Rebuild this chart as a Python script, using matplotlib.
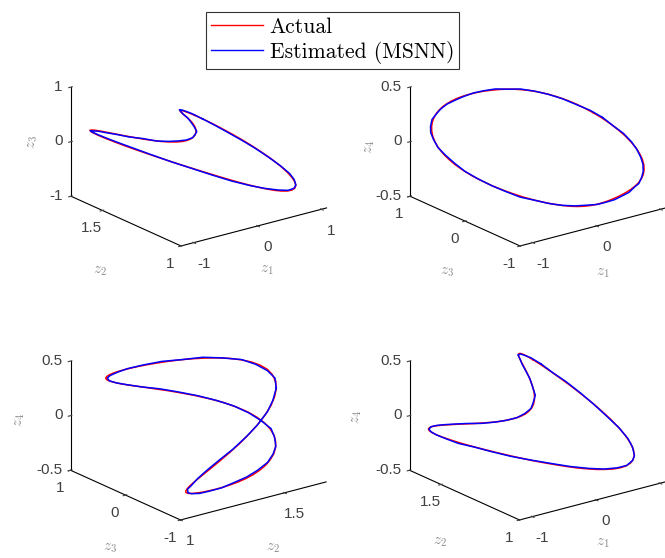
import matplotlib.pyplot as plt
from matplotlib.lines import Line2D

# actual trajectory of the limit cycle, one period
z1_actual = [0.725, 0.804, 0.877, 0.942, 0.997, 1.040, 1.070, 1.085, 1.087, 1.075,
             1.049, 1.012, 0.965, 0.910, 0.849, 0.784, 0.718, 0.653, 0.588, 0.526,
             0.465, 0.406, 0.346, 0.286, 0.224, 0.158, 0.086, 0.008, -0.076, -0.167,
             -0.264, -0.366, -0.471, -0.576, -0.680, -0.781, -0.875, -0.961, -1.036, -1.100,
             -1.150, -1.187, -1.211, -1.221, -1.219, -1.205, -1.181, -1.147, -1.105, -1.055,
             -1.000, -0.940, -0.875, -0.807, -0.736, -0.663, -0.588, -0.513, -0.436, -0.359,
             -0.281, -0.202, -0.123, -0.042, 0.039, 0.122, 0.206, 0.292, 0.379, 0.467,
             0.555, 0.641]
z2_actual = [1.695, 1.681, 1.656, 1.621, 1.576, 1.524, 1.467, 1.408, 1.348, 1.291,
             1.238, 1.192, 1.155, 1.127, 1.109, 1.101, 1.102, 1.113, 1.131, 1.157,
             1.188, 1.223, 1.262, 1.304, 1.347, 1.391, 1.435, 1.479, 1.521, 1.562,
             1.598, 1.631, 1.658, 1.678, 1.691, 1.694, 1.688, 1.672, 1.647, 1.612,
             1.570, 1.520, 1.466, 1.410, 1.353, 1.298, 1.247, 1.201, 1.162, 1.132,
             1.110, 1.097, 1.093, 1.098, 1.110, 1.129, 1.154, 1.184, 1.219, 1.258,
             1.300, 1.344, 1.391, 1.438, 1.485, 1.531, 1.574, 1.613, 1.647, 1.673,
             1.691, 1.698]
z3_actual = [-0.099, -0.165, -0.230, -0.295, -0.358, -0.417, -0.474, -0.525, -0.571, -0.611,
             -0.645, -0.672, -0.691, -0.705, -0.712, -0.714, -0.712, -0.707, -0.698, -0.688,
             -0.675, -0.662, -0.646, -0.628, -0.607, -0.582, -0.552, -0.517, -0.475, -0.426,
             -0.370, -0.308, -0.239, -0.165, -0.088, -0.008, 0.072, 0.150, 0.226, 0.298,
             0.364, 0.425, 0.478, 0.525, 0.566, 0.601, 0.630, 0.654, 0.673, 0.689,
             0.700, 0.708, 0.713, 0.713, 0.709, 0.700, 0.687, 0.668, 0.644, 0.614,
             0.579, 0.539, 0.495, 0.446, 0.394, 0.339, 0.282, 0.222, 0.160, 0.097,
             0.032, -0.033]
z4_actual = [0.220, 0.175, 0.127, 0.077, 0.028, -0.022, -0.069, -0.114, -0.156, -0.194,
             -0.229, -0.260, -0.287, -0.311, -0.331, -0.349, -0.365, -0.379, -0.392, -0.403,
             -0.414, -0.422, -0.430, -0.435, -0.438, -0.439, -0.437, -0.431, -0.421, -0.407,
             -0.389, -0.367, -0.341, -0.310, -0.276, -0.239, -0.198, -0.156, -0.111, -0.066,
             -0.020, 0.025, 0.069, 0.111, 0.152, 0.189, 0.224, 0.255, 0.283, 0.308,
             0.329, 0.347, 0.362, 0.375, 0.386, 0.396, 0.404, 0.411, 0.418, 0.423,
             0.427, 0.430, 0.431, 0.429, 0.424, 0.415, 0.402, 0.384, 0.361, 0.333,
             0.300, 0.262]

# trajectory predicted by the MSNN model
z1_msnn = [0.81, 0.90, 0.98, 1.04, 1.07, 1.08, 1.07, 1.04, 0.99, 0.92,
           0.84, 0.75, 0.65, 0.54, 0.43, 0.31, 0.19, 0.06, -0.08, -0.22,
           -0.36, -0.51, -0.65, -0.78, -0.91, -1.02, -1.11, -1.17, -1.22, -1.23,
           -1.23, -1.19, -1.14, -1.06, -0.97, -0.87, -0.75, -0.64, -0.51, -0.38,
           -0.25, -0.11, 0.02, 0.16, 0.30, 0.44, 0.57, 0.70]
z2_msnn = [1.68, 1.64, 1.59, 1.52, 1.45, 1.37, 1.29, 1.22, 1.17, 1.13,
           1.11, 1.11, 1.13, 1.17, 1.22, 1.29, 1.36, 1.44, 1.51, 1.58,
           1.63, 1.67, 1.69, 1.70, 1.68, 1.65, 1.60, 1.54, 1.47, 1.39,
           1.32, 1.25, 1.18, 1.14, 1.11, 1.10, 1.11, 1.14, 1.18, 1.25,
           1.32, 1.40, 1.48, 1.55, 1.62, 1.66, 1.69, 1.70]
z3_msnn = [-0.17, -0.26, -0.35, -0.43, -0.49, -0.55, -0.60, -0.64, -0.67, -0.70,
           -0.71, -0.72, -0.71, -0.70, -0.68, -0.65, -0.60, -0.54, -0.47, -0.39,
           -0.30, -0.20, -0.10, 0.00, 0.11, 0.21, 0.30, 0.39, 0.47, 0.54,
           0.59, 0.64, 0.67, 0.69, 0.71, 0.71, 0.70, 0.68, 0.65, 0.61,
           0.55, 0.49, 0.41, 0.32, 0.23, 0.13, 0.03, -0.07]
z4_msnn = [0.18, 0.11, 0.05, -0.02, -0.08, -0.14, -0.19, -0.24, -0.28, -0.32,
           -0.34, -0.37, -0.39, -0.41, -0.42, -0.43, -0.43, -0.43, -0.42, -0.40,
           -0.37, -0.34, -0.29, -0.24, -0.18, -0.12, -0.05, 0.01, 0.07, 0.13,
           0.18, 0.22, 0.27, 0.30, 0.33, 0.36, 0.38, 0.40, 0.42, 0.43,
           0.44, 0.43, 0.43, 0.41, 0.38, 0.34, 0.29, 0.24]

axis_names = ['$z_1$', '$z_2$', '$z_3$', '$z_4$']
axis_limits = [(-1.2, 1.08), (1.0, 1.7), (-1.0, 1.0), (-0.5, 0.5)]
axis_ticks = [[-1, 0, 1], [1, 1.5], [-1, 0, 1], [-0.5, 0, 0.5]]
tick_labels = [['-1', '0', '1'], ['1', '1.5'], ['-1', '0', '1'], ['-0.5', '0', '0.5']]

# which states go on x, y, z of each subplot
panels = [(0, 1, 2), (0, 2, 3), (1, 2, 3), (0, 1, 3)]


def closed(seq):
    return seq + seq[:1]


actual = [closed(z1_actual), closed(z2_actual), closed(z3_actual), closed(z4_actual)]
msnn = [closed(z1_msnn), closed(z2_msnn), closed(z3_msnn), closed(z4_msnn)]

plt.rcParams['font.family'] = 'Liberation Sans'
plt.rcParams['axes.unicode_minus'] = False
plt.rcParams['mathtext.fontset'] = 'cm'

W, H = 665, 558
fig = plt.figure(figsize=(W / 100, H / 100), dpi=100)

rects = [[0.08699, 0.48306, 0.41278, 0.49194], [0.59680, 0.48306, 0.41278, 0.49194],
         [0.08627, -0.00797, 0.41278, 0.49194], [0.59604, -0.00797, 0.41278, 0.49194]]
# axis title positions in pixels (x label, y label, z label)
title_pos = [[(267, 270), (100, 271), (33, 142)],
             [(603, 273), (447, 272), (370, 147)],
             [(273, 548), (110, 548), (20, 420)],
             [(603, 543), (440, 542), (357, 417)]]

for rect, (i, j, k), tp in zip(rects, panels, title_pos):
    ax = fig.add_axes(rect, projection='3d', proj_type='ortho')
    ax.plot(actual[i], actual[j], actual[k], color='r', lw=1.1)
    ax.plot(msnn[i], msnn[j], msnn[k], color='b', lw=1.1)

    ax.set_xlim(axis_limits[i])
    ax.set_ylim(axis_limits[j])
    ax.set_zlim(axis_limits[k])
    ax.set_box_aspect((1.572, 1.562, 1))
    ax.view_init(elev=20.1, azim=-127.25)
    ax.grid(False)

    for axis, n, pad in zip((ax.xaxis, ax.yaxis, ax.zaxis), (i, j, k), (1.3, -0.5, -4.7)):
        axis.pane.set_visible(False)
        axis.line.set_color('k')
        axis.line.set_linewidth(0.8)
        axis.set_ticks(axis_ticks[n])
        axis.set_ticklabels(tick_labels[n])
        axis.set_tick_params(labelsize=11, colors='#404040', pad=pad)
    for lab in ax.zaxis.get_ticklabels():
        lab.set_ha('right')
        lab.set_va('center')

    for (x, y), n, rot in zip(tp, (i, j, k), (0, 0, 90)):
        fig.text(x / W, 1 - y / H, axis_names[n], ha='center', va='center',
                 rotation=rot, fontsize=11, color='#8a8a8a')

handles = [Line2D([], [], color='r', lw=1), Line2D([], [], color='b', lw=1)]
leg = fig.legend(handles, ['Actual', 'Estimated (MSNN)'], loc='upper left',
                 bbox_to_anchor=(206 / W, 1 - 11.7 / H),
                 prop={'family': 'cmr10', 'size': 15.5},
                 fancybox=False, edgecolor='k', borderaxespad=0, borderpad=0.25,
                 handlelength=2.4, handletextpad=0.3, labelspacing=0.2)
leg.get_frame().set_linewidth(0.8)

fig.savefig('out.png', dpi=100)
